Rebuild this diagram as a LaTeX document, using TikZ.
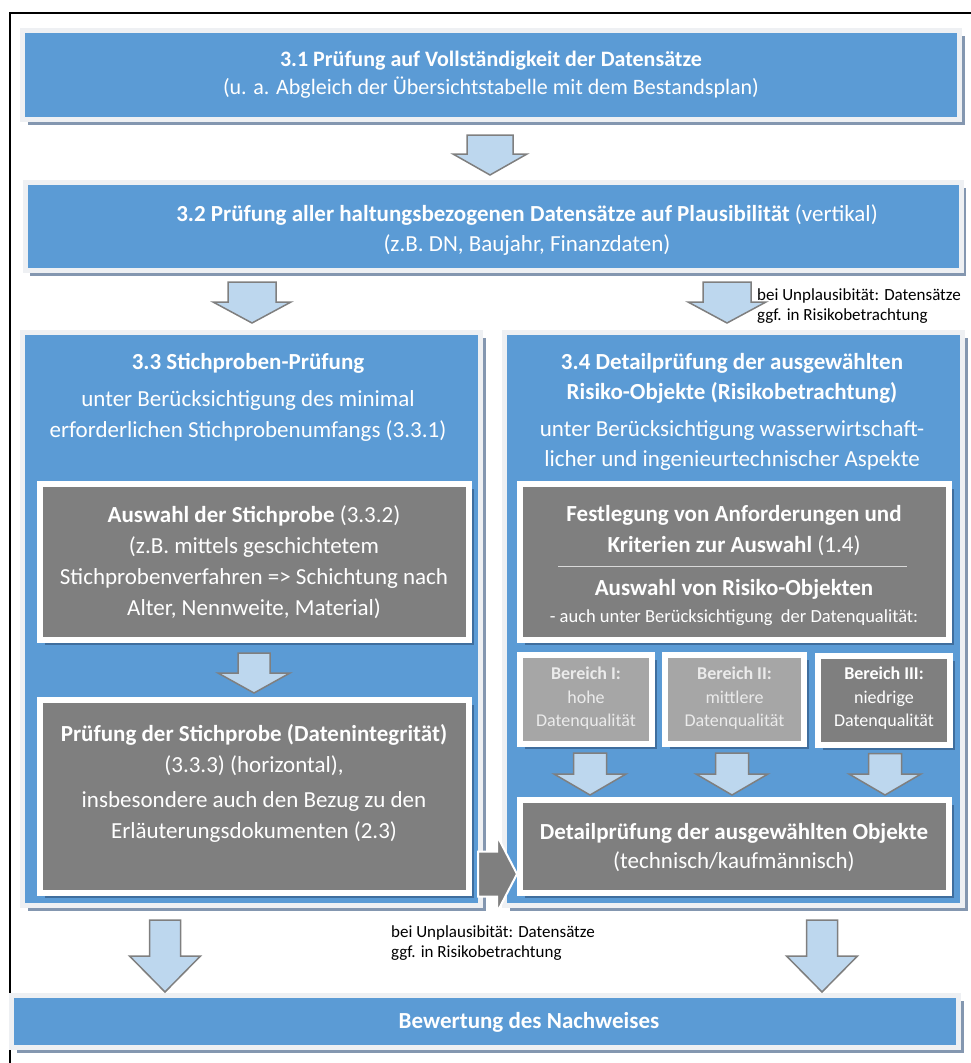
\documentclass[tikz,border=0pt]{standalone}
\usepackage{fontspec}
\setmainfont{Carlito}
\usepackage{tikz}
\usetikzlibrary{calc,shadows}

\definecolor{boxblue}{HTML}{5B9BD5}
\definecolor{rimwhite}{HTML}{EEF0F3}
\definecolor{shadeblue}{HTML}{8497B0}
\definecolor{deepblue}{HTML}{3F6E9E}
\definecolor{darkgrey}{HTML}{7F7F7F}
\definecolor{lightgrey}{HTML}{A6A6A6}
\definecolor{paletext}{HTML}{EBEBEB}
\definecolor{arrowfill}{HTML}{BDD7EE}
\definecolor{arrowline}{HTML}{7F7F7F}

% block arrow pointing down: x, source, target, shaft half, head half, head length, top gap, tip gap
\newcommand{\flowdown}[8]{%
  \draw[blkarrow] let \p1=(#2.south), \p2=(#3.north) in
    (#1-#4,\y1-#7pt) -- (#1+#4,\y1-#7pt) -- (#1+#4,\y2+#8pt+#6pt) -- (#1+#5,\y2+#8pt+#6pt)
    -- (#1,\y2+#8pt) -- (#1-#5,\y2+#8pt+#6pt) -- (#1-#4,\y2+#8pt+#6pt) -- cycle;}

\begin{document}
\begin{tikzpicture}[x=1pt,y=-1pt,
  bluebox/.style={fill=boxblue,draw=rimwhite,line width=5pt,inner sep=0pt,
    drop shadow={shadow xshift=5pt,shadow yshift=-5pt,fill=shadeblue,opacity=1}},
  greybox/.style={fill=darkgrey,draw=white,line width=6pt,inner sep=0pt,
    drop shadow={shadow xshift=5pt,shadow yshift=-5pt,fill=deepblue,opacity=1}},
  palebox/.style={greybox,fill=lightgrey},
  txt/.style={text=white,align=center,inner sep=0pt,font=\fontsize{23}{31}\selectfont},
  smalltxt/.style={txt,font=\fontsize{18}{23.5}\selectfont},
  note/.style={align=left,inner sep=0pt,anchor=west,font=\fontsize{17}{20}\selectfont},
  blkarrow/.style={fill=arrowfill,draw=arrowline,line width=1.5pt},
  sidearrow/.style={fill=darkgrey,draw=white,line width=2pt}]

\useasboundingbox (0,0) rectangle (971,1063);

% frame
\draw[line width=2pt] (971,13) -- (10,13) -- (10,1063);

% blue stage boxes
\node[bluebox,minimum width=937pt,minimum height=89pt] (b31) at (491,75) {};
\node[bluebox,minimum width=936pt,minimum height=88pt] (b32) at (493,226.5) {};
\node[bluebox,minimum width=458pt,minimum height=573pt] (b33) at (251.5,619) {};
\node[bluebox,minimum width=458pt,minimum height=573pt] (b34) at (733.5,619) {};
\node[bluebox,minimum width=947pt,minimum height=52pt] (bw) at (485,1021.5) {};

% grey boxes inside 3.3 and 3.4
\node[greybox,minimum width=429pt,minimum height=156pt] (g1) at (254.5,562) {};
\node[greybox,minimum width=429pt,minimum height=193pt] (g2) at (254.5,796.5) {};
\node[greybox,minimum width=429pt,minimum height=156pt] (g3) at (734.5,562) {};
\node[greybox,minimum width=429pt,minimum height=93pt] (g4) at (734.5,846.5) {};
\node[palebox,minimum width=132pt,minimum height=89pt] (r1) at (586,699.5) {};
\node[palebox,minimum width=139pt,minimum height=89pt] (r2) at (734.5,699.5) {};
\node[greybox,minimum width=132pt,minimum height=89pt] (r3) at (884,700) {};

% texts
\node[txt,font=\fontsize{22}{28}\selectfont] (t31) at (491,75)
  {\textbf{3.1 Prüfung auf Vollständigkeit der Datensätze}\\(u. a. Abgleich der Übersichtstabelle mit dem Bestandsplan)};
\node[txt,font=\fontsize{23}{30}\selectfont] (t32) at (527,230)
  {\textbf{3.2 Prüfung aller haltungsbezogenen Datensätze auf Plausibilität} (vertikal)\\(z.B. DN, Baujahr, Finanzdaten)};
\node[txt] (t33) at (248,397)
  {\textbf{3.3 Stichproben-Prüfung}\\[6pt]unter Berücksichtigung des minimal\\erforderlichen Stichprobenumfangs (3.3.1)};
\node[txt,font=\fontsize{23}{30}\selectfont] (t34) at (732,411.5)
  {\textbf{3.4 Detailprüfung der ausgewählten}\\\textbf{Risiko-Objekte (Risikobetrachtung)}\\[7pt]unter Berücksichtigung wasserwirtschaft-\\licher und ingenieurtechnischer Aspekte};
\node[txt] (tg1) at (254,562)
  {\textbf{Auswahl der Stichprobe} (3.3.2)\\(z.B. mittels geschichtetem\\Stichprobenverfahren => Schichtung nach\\Alter, Nennweite, Material)};
\node[txt] (tg2) at (254,783.5)
  {\textbf{Prüfung der Stichprobe (Datenintegrität)}\\(3.3.3) (horizontal),\\[4pt]insbesondere auch den Bezug zu den\\Erläuterungsdokumenten (2.3)};
\node[txt] (tg3a) at (734,530.5)
  {\textbf{Festlegung von Anforderungen und}\\\textbf{Kriterien zur Auswahl} (1.4)};
\node[txt] (tg3b) at (734,602.5)
  {\textbf{Auswahl von Risiko-Objekten}\\[-4pt]{\fontsize{18.5}{20}\selectfont - auch unter Berücksichtigung\ \ der Datenqualität:}};
\draw[white!85!black,line width=0.8pt] (558,566) -- (907,566);
\node[smalltxt,text=paletext] (tr1) at (586,698.5) {\textbf{Bereich I:}\\hohe\\Datenqualität};
\node[smalltxt,text=paletext] (tr2) at (734.5,698.5) {\textbf{Bereich II:}\\mittlere\\Datenqualität};
\node[smalltxt] (tr3) at (884,698.5) {\textbf{Bereich III:}\\niedrige\\Datenqualität};
\node[txt,font=\fontsize{23}{29}\selectfont] (tg4) at (734,847.5)
  {\textbf{Detailprüfung der ausgewählten Objekte}\\(technisch/kaufmännisch)};
\node[txt] (tbw) at (529,1022) {\textbf{Bewertung des Nachweises}};

% notes
\node[note] (n1) at (757,306) {bei Unplausibität: Datensätze\\ggf. in Risikobetrachtung};
\node[note] (n2) at (391,943) {bei Unplausibität: Datensätze\\ggf. in Risikobetrachtung};

% block arrows
\flowdown{490}{b31}{b32}{23}{37}{21}{13}{5}
\flowdown{252}{b32}{b33}{24}{39}{21}{9}{7}
\flowdown{727}{b32}{b34}{24}{39}{21}{9}{7}
\flowdown{254}{g1}{g2}{16}{36}{20}{10}{4}
\foreach \bx/\src in {590/r1,732/r2,885/r3}
  {\flowdown{\bx}{\src}{g4}{16.5}{36}{21}{6}{2}}
\flowdown{165}{b33}{bw}{15.5}{35.5}{36}{12}{1}
\flowdown{822}{b34}{bw}{15.5}{35.5}{36}{12}{1}

% side arrow from 3.3 into 3.4
\draw[sidearrow] let \p1=(b33.east), \p2=(g4.west) in
  (\x1-5pt,851.5) -- (\x2-20pt,851.5) -- (\x2-20pt,835.5) -- (\x2,874)
  -- (\x2-20pt,912.5) -- (\x2-20pt,896.5) -- (\x1-5pt,896.5) -- cycle;

\end{tikzpicture}
\end{document}
